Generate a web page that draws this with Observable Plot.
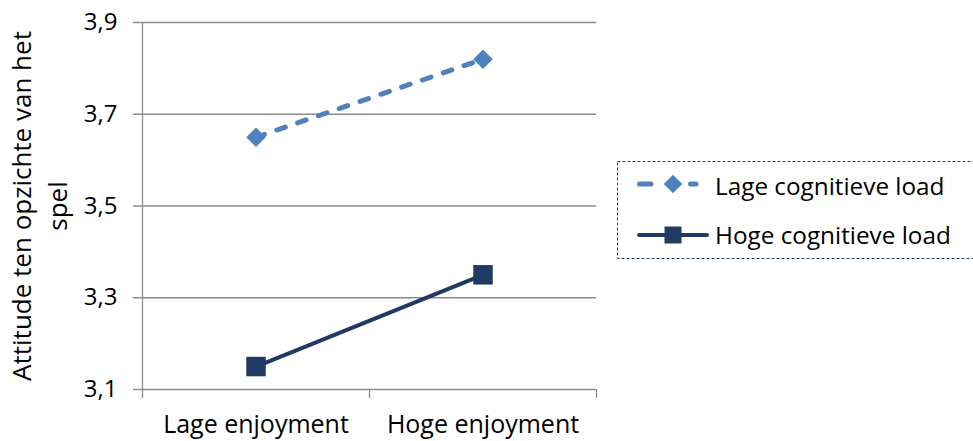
<!DOCTYPE html>
<html>
<head>
<meta charset="utf-8">
<script src="https://cdn.jsdelivr.net/npm/d3@7"></script>
<script src="https://cdn.jsdelivr.net/npm/@observablehq/plot@0.6"></script>
<style>
  html, body { margin: 0; padding: 0; background: #fff; overflow: hidden; }
  #wrap { position: relative; width: 973px; height: 441px; }
  #legend { position: absolute; left: 0; top: 0; }
  text { font-family: "Open Sans", sans-serif; }
</style>
</head>
<body>
<div id="wrap"></div>
<script>
const categories = ["Lage enjoyment", "Hoge enjoyment"];
const seriesNames = ["Lage cognitieve load", "Hoge cognitieve load"];
const lageLoad = [3.65, 3.82];
const hogeLoad = [3.15, 3.35];
const yTicks = [3.1, 3.3, 3.5, 3.7, 3.9];
const yTitle = "Attitude ten opzichte van het\nspel";

const colLight = "#4F81BD";
const colDark = "#1F3A63";
const gridCol = "#8C8C8C";
const FONT = "Open Sans, sans-serif";
const FS_X = 25, FS_Y = 24, FS_T = 26, FS_L = 24.3;

const rows = [];
categories.forEach((c, i) => {
  rows.push({x: i + 0.5, cat: c, value: lageLoad[i], series: seriesNames[0]});
  rows.push({x: i + 0.5, cat: c, value: hogeLoad[i], series: seriesNames[1]});
});
const lageRows = rows.filter(d => d.series === seriesNames[0]);
const hogeRows = rows.filter(d => d.series === seriesNames[1]);
const fmt = d => d.toFixed(1).replace(".", ",");

const chart = Plot.plot({
  width: 973,
  height: 441,
  marginLeft: 142,
  marginRight: 377,
  marginTop: 22,
  marginBottom: 52,
  style: {fontFamily: FONT, fontSize: FS_X + "px", color: "#000", background: "#fff"},
  x: {domain: [0, 2]},
  y: {domain: [3.1, 3.9]},
  marks: [
    Plot.gridY(yTicks, {stroke: gridCol, strokeOpacity: 1, strokeWidth: 1.3, insetLeft: -9}),
    Plot.ruleX([0], {stroke: gridCol, strokeWidth: 1.3, insetBottom: -9}),
    Plot.axisX([1, 2], {tickSize: 9, tickFormat: () => "", stroke: gridCol, strokeWidth: 1.3, label: null}),
    Plot.axisX([0.5, 1.5], {tickSize: 0, tickPadding: 26, tickFormat: d => categories[Math.floor(d)], fontSize: FS_X, fill: "#000", label: null}),
    Plot.axisY(yTicks, {tickSize: 0, tickPadding: 25, tickFormat: fmt, fontSize: FS_Y, fill: "#000", label: null}),
    Plot.text([yTitle], {frameAnchor: "left", rotate: -90, dx: -105, fontSize: FS_T, lineHeight: 36 / FS_T, textAnchor: "middle", lineAnchor: "middle", fill: "#000"}),
    Plot.line(lageRows, {x: "x", y: "value", stroke: colLight, strokeWidth: 5, strokeDasharray: "9,13", strokeLinecap: "round"}),
    Plot.line(hogeRows, {x: "x", y: "value", stroke: colDark, strokeWidth: 4}),
    Plot.dot(lageRows, {x: "x", y: "value", symbol: "diamond2", r: 8.8, fill: colLight, stroke: "none"}),
    Plot.dot(hogeRows, {x: "x", y: "value", symbol: "square", r: 11, fill: colDark, stroke: "none"})
  ]
});
document.getElementById("wrap").appendChild(chart);

// Legend (right side, dashed box)
const leg = d3.select("#wrap").append("svg")
  .attr("id", "legend").attr("width", 973).attr("height", 441)
  .style("position", "absolute").style("left", "0px").style("top", "0px");
leg.append("rect").attr("x", 617.5).attr("y", 161.5).attr("width", 360).attr("height", 97)
  .attr("fill", "none").attr("stroke", colDark).attr("stroke-width", 1).attr("stroke-dasharray", "3,2");
const items = [
  {name: seriesNames[0], color: colLight, dashed: true, w: 5, symbol: d3.symbolDiamond2, size: 220, y: 184, base: 195},
  {name: seriesNames[1], color: colDark, dashed: false, w: 4, symbol: d3.symbolSquare, size: 289, y: 235, base: 244}
];
items.forEach(it => {
  const g = leg.append("g");
  const segs = it.dashed ? [[639.5, 651], [690.5, 696]] : [[639, 707]];
  segs.forEach(([a, b]) => {
    g.append("line").attr("x1", a).attr("x2", b).attr("y1", it.y).attr("y2", it.y)
      .attr("stroke", it.color).attr("stroke-width", it.w).attr("stroke-linecap", "round");
  });
  g.append("path").attr("d", d3.symbol(it.symbol, it.size)()).attr("transform", `translate(673,${it.y})`)
    .attr("fill", it.color);
  g.append("text").attr("x", 715).attr("y", it.base).attr("font-size", FS_L).attr("font-family", FONT)
    .attr("fill", "#000").text(it.name);
});
</script>
</body>
</html>
